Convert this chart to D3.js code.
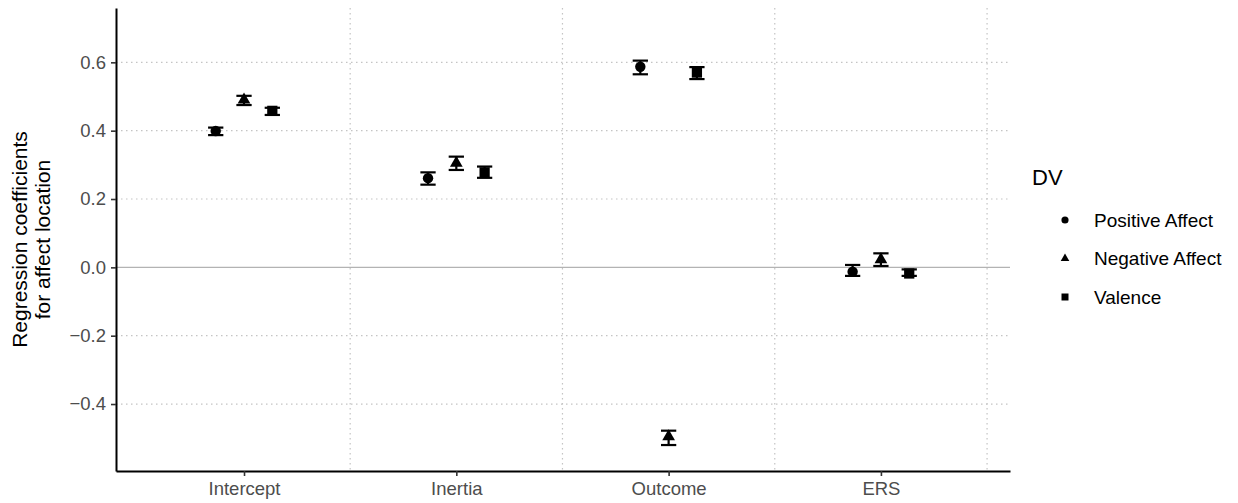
<!DOCTYPE html>
<html>
<head>
<meta charset="utf-8">
<script src="https://cdn.jsdelivr.net/npm/d3@7"></script>
<style>
  body { margin: 0; background: #fff; }
  text { font-family: "Liberation Sans", Arial, sans-serif; }
</style>
</head>
<body>
<svg id="chart" width="1238" height="503"></svg>
<script>
// data
const categories = ["Intercept", "Inertia", "Outcome", "ERS"];
const dvNames = ["Positive Affect", "Negative Affect", "Valence"];

const posAffect = [0.399, 0.261, 0.587, -0.013];
const posLow    = [0.387, 0.242, 0.565, -0.025];
const posHigh   = [0.409, 0.278, 0.605, 0.007];

const negAffect = [0.490, 0.305, -0.495, 0.023];
const negLow    = [0.475, 0.285, -0.520, 0.004];
const negHigh   = [0.502, 0.324, -0.478, 0.041];

const valence   = [0.458, 0.278, 0.570, -0.018];
const valLow    = [0.446, 0.262, 0.551, -0.025];
const valHigh   = [0.467, 0.295, 0.586, -0.006];

const yTicks = [-0.4, -0.2, 0, 0.2, 0.4, 0.6];

const series = [
  { name: dvNames[0], est: posAffect, lo: posLow, hi: posHigh, shape: d3.symbolCircle, size: 85, legSize: 40 },
  { name: dvNames[1], est: negAffect, lo: negLow, hi: negHigh, shape: d3.symbolTriangle, size: 70, legSize: 32 },
  { name: dvNames[2], est: valence, lo: valLow, hi: valHigh, shape: d3.symbolSquare, size: 105, legSize: 49 }
];

const rows = [];
series.forEach((s, si) => {
  categories.forEach((c, ci) => {
    rows.push({ s, si, ci, est: s.est[ci], lo: s.lo[ci], hi: s.hi[ci] });
  });
});

const svg = d3.select("#chart");
const pLeft = 116, pRight = 1010, pTop = 8, pBottom = 471;

const x = d3.scaleLinear().domain([0.397, 4.608]).range([pLeft, pRight]);
const y = d3.scaleLinear().domain([-0.596, 0.759]).range([pBottom, pTop]);
const dodge = [-0.1333, 0, 0.1333];
const capHalf = 0.036;

// grid
const grid = svg.append("g");
grid.selectAll("line.h")
  .data(yTicks.filter(d => d !== 0))
  .enter().append("line")
    .attr("x1", pLeft).attr("x2", pRight)
    .attr("y1", d => y(d)).attr("y2", d => y(d))
    .attr("stroke", "#c4c4c4")
    .attr("stroke-width", 1.2)
    .attr("stroke-dasharray", "1.5,3.5");

grid.selectAll("line.v")
  .data([1.5, 2.5, 3.5, 4.5])
  .enter().append("line")
    .attr("x1", d => x(d)).attr("x2", d => x(d))
    .attr("y1", pTop).attr("y2", pBottom)
    .attr("stroke", "#c4c4c4")
    .attr("stroke-width", 1.2)
    .attr("stroke-dasharray", "1.5,3.5");

// zero reference line
svg.append("line")
  .attr("x1", pLeft).attr("x2", pRight)
  .attr("y1", y(0)).attr("y2", y(0))
  .attr("stroke", "#b3b3b3")
  .attr("stroke-width", 1.3);

// error bars
const bars = svg.append("g").selectAll("g")
  .data(rows)
  .enter().append("g")
    .attr("stroke", "#000")
    .attr("stroke-width", 2.2);

bars.append("line")
  .attr("x1", d => x(d.ci + 1 + dodge[d.si]))
  .attr("x2", d => x(d.ci + 1 + dodge[d.si]))
  .attr("y1", d => y(d.lo))
  .attr("y2", d => y(d.hi));
bars.append("line")
  .attr("x1", d => x(d.ci + 1 + dodge[d.si] - capHalf))
  .attr("x2", d => x(d.ci + 1 + dodge[d.si] + capHalf))
  .attr("y1", d => y(d.lo)).attr("y2", d => y(d.lo));
bars.append("line")
  .attr("x1", d => x(d.ci + 1 + dodge[d.si] - capHalf))
  .attr("x2", d => x(d.ci + 1 + dodge[d.si] + capHalf))
  .attr("y1", d => y(d.hi)).attr("y2", d => y(d.hi));

// points
svg.append("g").selectAll("path")
  .data(rows)
  .enter().append("path")
    .attr("transform", d => `translate(${x(d.ci + 1 + dodge[d.si])},${y(d.est)})`)
    .attr("d", d => d3.symbol().type(d.s.shape).size(d.s.size)())
    .attr("fill", "#000");

// axes
const yAxis = svg.append("g")
  .attr("transform", `translate(${pLeft},0)`)
  .call(d3.axisLeft(y).tickValues(yTicks).tickFormat(d3.format(".1f")).tickSize(5).tickSizeOuter(0).tickPadding(5));

const xAxis = svg.append("g")
  .attr("transform", `translate(0,${pBottom})`)
  .call(d3.axisBottom(x).tickValues([1, 2, 3, 4]).tickFormat(d => categories[d - 1]).tickSize(5).tickSizeOuter(0).tickPadding(6));

[yAxis, xAxis].forEach(a => {
  a.select(".domain").attr("stroke", "#000").attr("stroke-width", 2);
  a.selectAll(".tick line").attr("stroke", "#333").attr("stroke-width", 1.6);
  a.selectAll(".tick text")
    .attr("fill", "#4d4d4d")
    .style("font-size", "18.5px")
    .style("font-family", "'Liberation Sans', Arial, sans-serif");
});

// y title
const yTitle = svg.append("text")
  .attr("transform", `translate(27,${(pTop + pBottom) / 2}) rotate(-90)`)
  .attr("text-anchor", "middle")
  .style("font-size", "21px")
  .attr("fill", "#000");
yTitle.append("tspan").attr("x", 0).attr("dy", 0).text("Regression coefficients");
yTitle.append("tspan").attr("x", 0).attr("dy", 23).text("for affect location");

// legend
const legend = svg.append("g");
legend.append("text")
  .attr("x", 1032).attr("y", 185)
  .style("font-size", "22px")
  .text("DV");

const items = legend.selectAll("g.item")
  .data(series)
  .enter().append("g")
    .attr("class", "item")
    .attr("transform", (d, i) => `translate(1065,${220 + i * 38.5})`);

items.append("path")
  .attr("d", d => d3.symbol().type(d.shape).size(d.legSize)())
  .attr("fill", "#000");

items.append("text")
  .attr("x", 29)
  .attr("dy", "0.35em")
  .style("font-size", "19px")
  .text(d => d.name);
</script>
</body>
</html>
